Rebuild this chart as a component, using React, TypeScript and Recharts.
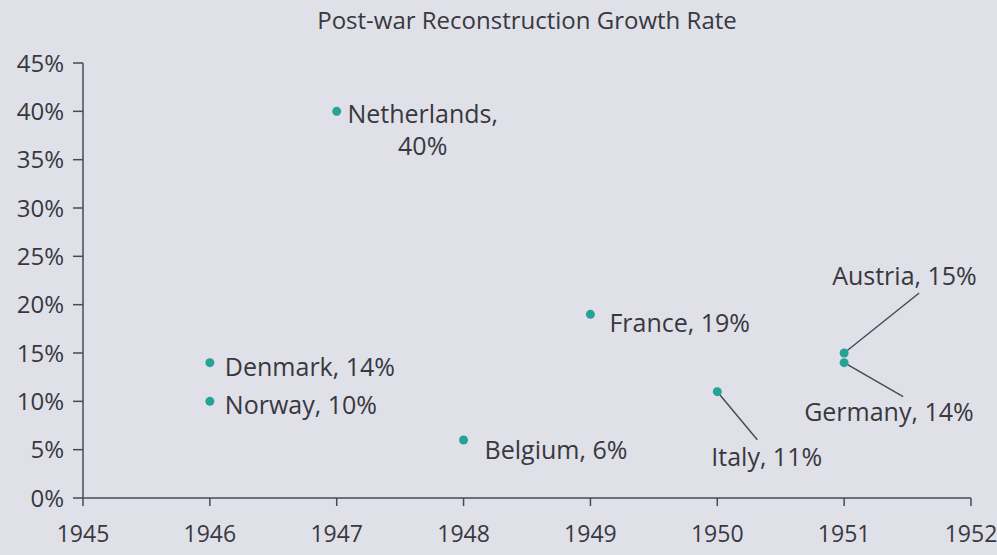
import { CartesianGrid, Scatter, ScatterChart, XAxis, YAxis } from 'recharts';

const countries = ['Netherlands', 'Denmark', 'Norway', 'Belgium', 'France', 'Italy', 'Austria', 'Germany'];
const years = [1947, 1946, 1946, 1948, 1949, 1950, 1951, 1951];
const growth = [40, 14, 10, 6, 19, 11, 15, 14];
const yearTicks = [1945, 1946, 1947, 1948, 1949, 1950, 1951, 1952];
const growthTicks = [0, 5, 10, 15, 20, 25, 30, 35, 40, 45];

const data = countries.map((name, i) => ({ name, year: years[i], growth: growth[i] }));

const font = '"Open Sans", "Noto Sans", sans-serif';
const ink = '#383840';
const axisInk = '#4a4a54';
const teal = '#26a396';

// where each label sits relative to its dot, and optional leader line end
const placement: Record<string, { dx: number; dy: number; anchor?: string; lead?: [number, number]; split?: boolean }> = {
  Netherlands: { dx: 86, dy: 2, anchor: 'middle', split: true },
  Denmark: { dx: 15, dy: 3 },
  Norway: { dx: 15, dy: 3 },
  Belgium: { dx: 21, dy: 9 },
  France: { dx: 19, dy: 8 },
  Italy: { dx: -6, dy: 64, lead: [40, 48] },
  Austria: { dx: -12, dy: -78, lead: [75, -60] },
  Germany: { dx: -40, dy: 48, lead: [59, 34] },
};

const Dot = (props: any) => {
  const { cx, cy, payload } = props;
  const p = placement[payload.name];
  const text = `${payload.name}, ${payload.growth}%`;
  return (
    <g>
      {p.lead && (
        <line x1={cx} y1={cy} x2={cx + p.lead[0]} y2={cy + p.lead[1]} stroke={axisInk} strokeWidth={1.5} />
      )}
      <circle cx={cx} cy={cy} r={4.5} fill={teal} />
      {p.split ? (
        <text x={cx + p.dx} y={cy + p.dy} textAnchor="middle" fontFamily={font} fontSize={25} fill={ink} dominantBaseline="central">
          <tspan x={cx + p.dx} dy={0}>{payload.name},</tspan>
          <tspan x={cx + p.dx} dy={32}>{payload.growth}%</tspan>
        </text>
      ) : (
        <text x={cx + p.dx} y={cy + p.dy} textAnchor={p.anchor || 'start'} fontFamily={font} fontSize={25} fill={ink} dominantBaseline="central">
          {text}
        </text>
      )}
    </g>
  );
};

export default function App() {
  return (
    <div style={{ position: 'absolute', left: 0, top: 0, width: 997, height: 555, background: '#e0e0e8', fontFamily: font }}>
      <div style={{ position: 'absolute', left: 83, width: 888, top: 3, textAlign: 'center', fontSize: 24, color: ink }}>
        Post-war Reconstruction Growth Rate
      </div>
      <ScatterChart width={997} height={555} margin={{ top: 63, right: 26, bottom: 0, left: 0 }}>
        <CartesianGrid stroke="none" />
        <XAxis
          type="number"
          dataKey="year"
          domain={[1945, 1952]}
          ticks={yearTicks}
          interval={0}
          height={57}
          tickSize={8}
          tickMargin={20}
          axisLine={{ stroke: axisInk, strokeWidth: 1.5 }}
          tickLine={{ stroke: axisInk, strokeWidth: 1.5 }}
          tick={{ fill: ink, fontSize: 23, fontFamily: font }}
        />
        <YAxis
          type="number"
          dataKey="growth"
          domain={[0, 45]}
          ticks={growthTicks}
          interval={0}
          width={83}
          tickSize={10}
          tickMargin={9}
          tickFormatter={(v) => `${v}%`}
          axisLine={{ stroke: axisInk, strokeWidth: 1.5 }}
          tickLine={{ stroke: axisInk, strokeWidth: 1.5 }}
          tick={{ fill: ink, fontSize: 24, fontFamily: font }}
        />
        <Scatter data={data} shape={Dot} isAnimationActive={false} />
      </ScatterChart>
    </div>
  );
}
